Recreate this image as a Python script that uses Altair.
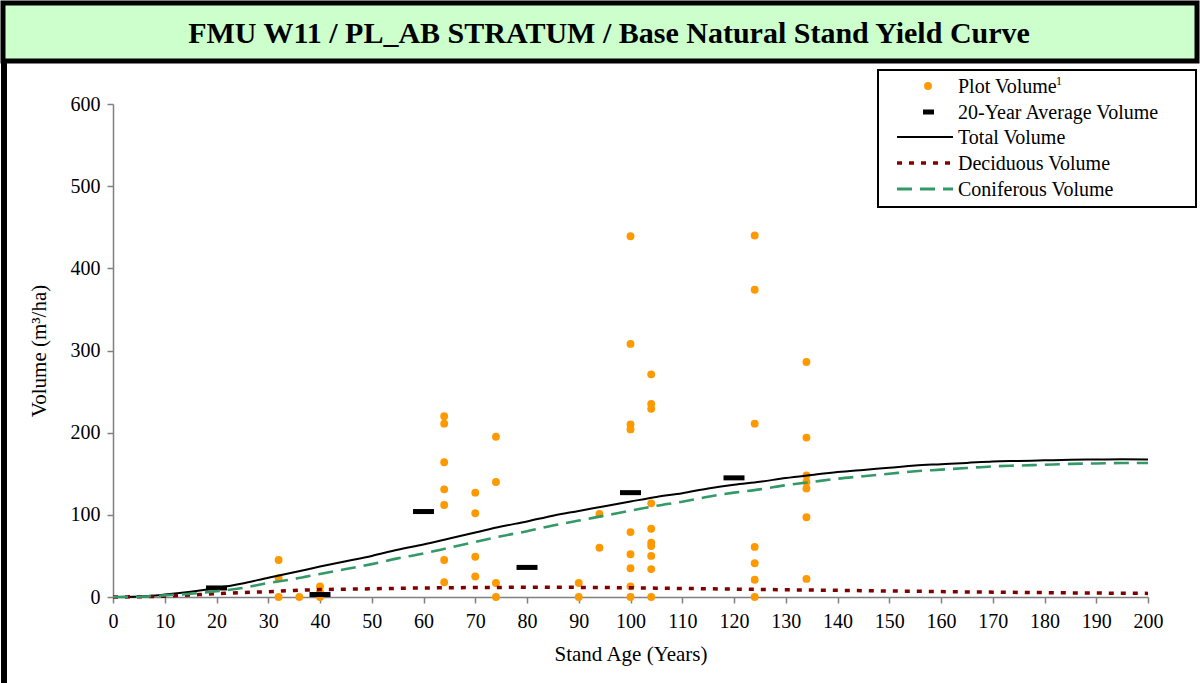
import altair as alt
import pandas as pd

FONT = "Times New Roman, Liberation Serif, Times, serif"

# ---- data ----
plot_age = [32, 32, 32, 36, 40, 40, 40,
            64, 64, 64, 64, 64, 64, 64,
            70, 70, 70, 70,
            74, 74, 74, 74,
            90, 90, 94, 94,
            100, 100, 100, 100, 100, 100, 100, 100, 100,
            104, 104, 104, 104, 104, 104, 104, 104, 104, 104,
            124, 124, 124, 124, 124, 124, 124,
            134, 134, 134, 134, 134, 134, 134]
plot_vol = [45, 23, 0, 0, 13, 6, 0,
            220, 211, 164, 131, 112, 45, 18,
            127, 102, 49, 25,
            195, 140, 17, 0,
            17, 0, 101, 60,
            439, 308, 210, 204, 79, 52, 35, 13, 0,
            271, 235, 229, 114, 83, 66, 62, 50, 34, 0,
            440, 374, 211, 61, 41, 21, 0,
            286, 194, 148, 140, 132, 97, 22]

avg_age = [20, 40, 60, 80, 100, 120]
avg_vol = [11, 3, 104, 36, 127, 145]

curve_age = list(range(0, 201, 5))
total_vol = [0, 0.6, 3, 6.5, 11, 16.5, 23.5, 30, 37, 43.5, 50, 57.5, 64, 71.3, 78.5,
             85.7, 92, 99, 104.7, 110.5, 116.2, 121.8, 126.4, 132, 136.6, 140.2,
             144.8, 148.5, 152, 154.7, 157.3, 160, 161.6, 163.2, 164.9, 165.6,
             166.3, 167, 167.3, 167.6, 167.4]
decid_vol = [0, 0.3, 1, 2.5, 4, 5.5, 6.5, 8, 9, 9.5, 10, 10.5, 11, 11.3, 11.5, 11.7,
             11.8, 11.8, 11.7, 11.5, 11.2, 10.8, 10.4, 10, 9.6, 9.2, 8.8, 8.5, 8.1,
             7.7, 7.3, 7, 6.6, 6.2, 5.9, 5.6, 5.3, 5, 4.8, 4.6, 4.4]
conif_vol = [0, 0.3, 2, 4, 7, 11, 17, 22, 28, 34, 40, 47, 53, 60, 67, 74, 80, 87,
             93, 99, 105, 111, 116, 122, 127, 131, 136, 140, 144, 147, 150, 153,
             155, 157, 159, 160, 161, 162, 162.5, 163, 163]

x_ticks = list(range(0, 201, 10))
y_ticks = list(range(0, 601, 100))

title_text = "FMU W11 / PL_AB STRATUM / Base Natural Stand Yield Curve"
legend_labels = ["Plot Volume", "20-Year Average Volume", "Total Volume",
                 "Deciduous Volume", "Coniferous Volume"]

# ---- layout ----
W, H = 1035, 493
PL, PT = 113, 104

plot_df = pd.DataFrame({"age": plot_age, "vol": plot_vol})
avg_df = pd.DataFrame({"age": avg_age, "vol": avg_vol})
curve_df = pd.DataFrame({"age": curve_age, "total": total_vol,
                         "decid": decid_vol, "conif": conif_vol})

xs = alt.Scale(domain=[0, 200], nice=False)
ys = alt.Scale(domain=[0, 600], nice=False)

x_axis = alt.Axis(title="Stand Age (Years)", values=x_ticks, grid=False,
                  labelFontSize=20, titleFontSize=21, labelPadding=8,
                  titlePadding=12, tickSize=6, labelFlush=False)
y_axis = alt.Axis(title="Volume (m³/ha)", values=y_ticks, grid=False,
                  labelFontSize=20, titleFontSize=21, labelPadding=7,
                  titlePadding=21, tickSize=6)

pts = alt.Chart(plot_df).mark_circle(size=62, color="#FF9900", opacity=1).encode(
    x=alt.X("age:Q", scale=xs, axis=x_axis),
    y=alt.Y("vol:Q", scale=ys, axis=y_axis),
)
avg = alt.Chart(avg_df).mark_tick(orient="horizontal", size=21, thickness=5,
                                  color="black", opacity=1).encode(
    x=alt.X("age:Q", scale=xs), y=alt.Y("vol:Q", scale=ys))

base_c = alt.Chart(curve_df)
total = base_c.mark_line(color="black", strokeWidth=2, interpolate="monotone").encode(
    x=alt.X("age:Q", scale=xs), y=alt.Y("total:Q", scale=ys))
decid = base_c.mark_line(color="#800000", strokeWidth=3.5, strokeDash=[5, 7],
                         interpolate="monotone").encode(
    x=alt.X("age:Q", scale=xs), y=alt.Y("decid:Q", scale=ys))
conif = base_c.mark_line(color="#339966", strokeWidth=2.6, strokeDash=[15, 8],
                         interpolate="monotone").encode(
    x=alt.X("age:Q", scale=xs), y=alt.Y("conif:Q", scale=ys))

one = alt.Data(values=[{"k": 0}])


def px(v):
    return alt.value(v - PL)


def py(v):
    return alt.value(v - PT)


# title band
title_rect = alt.Chart(one).mark_rect(fill="#CCFFCC", stroke="black", strokeWidth=5).encode(
    x=px(3), x2=px(1197), y=py(3), y2=py(61))
title_txt = alt.Chart(one).mark_text(font=FONT, fontSize=30, fontWeight="bold",
                                     align="center", baseline="middle", color="black").encode(
    x=px(609), y=py(34), text=alt.value(title_text))
left_border = alt.Chart(one).mark_rule(color="black", strokeWidth=6).encode(
    x=px(4), y=py(61), y2=py(683))

# legend
LX0, LX1 = 897, 953
TX = 958
rows = [86, 112, 137, 163, 189]
leg_box = alt.Chart(one).mark_rect(fill="white", stroke="black", strokeWidth=2).encode(
    x=px(878), x2=px(1196), y=py(70), y2=py(207))
leg_layers = [leg_box]
leg_layers.append(alt.Chart(one).mark_circle(size=62, color="#FF9900", opacity=1).encode(
    x=px(928), y=py(rows[0])))
leg_layers.append(alt.Chart(one).mark_rect(color="black").encode(
    x=px(923), x2=px(934), y=py(rows[1] - 2.5), y2=py(rows[1] + 2.5)))
leg_layers.append(alt.Chart(one).mark_rule(color="black", strokeWidth=2).encode(
    x=px(LX0), x2=px(LX1), y=py(rows[2])))
leg_layers.append(alt.Chart(one).mark_rule(color="#800000", strokeWidth=3.5,
                                           strokeDash=[5, 7]).encode(
    x=px(LX0), x2=px(LX1), y=py(rows[3])))
leg_layers.append(alt.Chart(one).mark_rule(color="#339966", strokeWidth=3,
                                           strokeDash=[15, 8]).encode(
    x=px(LX0), x2=px(LX1), y=py(rows[4])))
for lab, ry in zip(legend_labels, rows):
    leg_layers.append(alt.Chart(one).mark_text(font=FONT, fontSize=20, align="left",
                                               baseline="middle", color="black").encode(
        x=px(TX), y=py(ry + 1), text=alt.value(lab)))
leg_layers.append(alt.Chart(one).mark_text(font=FONT, fontSize=12, align="left",
                                           baseline="middle", color="black").encode(
    x=px(TX + 98), y=py(rows[0] - 5), text=alt.value("1")))

chart = alt.layer(
    title_rect, title_txt, left_border,
    pts, avg, total, decid, conif,
    *leg_layers,
).properties(
    width=W, height=H,
    padding={"left": PL, "top": PT, "right": 1200 - PL - W, "bottom": 683 - PT - H},
    autosize=alt.AutoSizeParams(type="none"),
    background="white",
).configure_view(stroke=None).configure_axis(
    labelFont=FONT, titleFont=FONT, labelColor="black", titleColor="black",
    titleFontWeight="normal", domainColor="#808080", tickColor="#808080",
    domainWidth=1.5, tickWidth=1.5,
)

chart.save("out.html", embed_options={"renderer": "svg", "actions": False})
